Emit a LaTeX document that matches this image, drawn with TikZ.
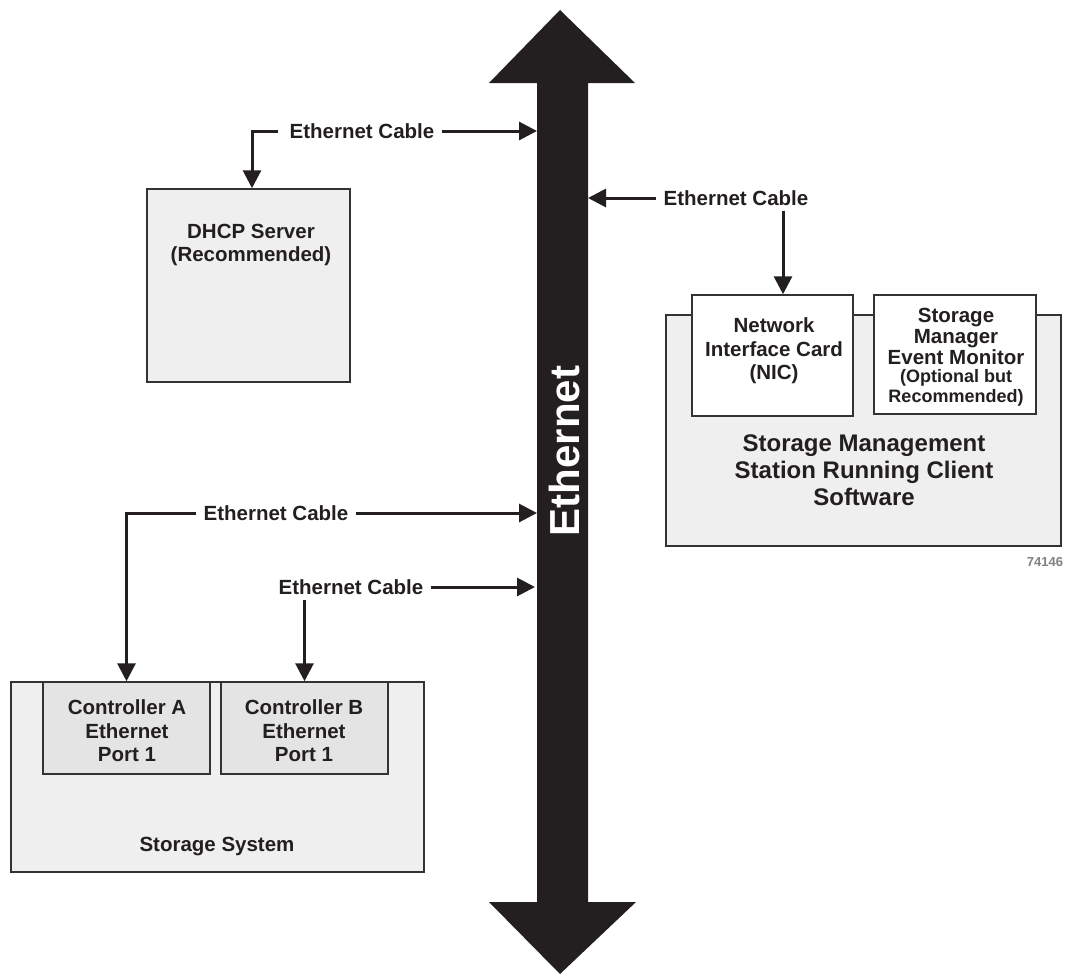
\documentclass[tikz,border=0pt]{standalone}
\usepackage{fontspec}
\setmainfont{Liberation Sans}
\usetikzlibrary{arrows.meta}
\definecolor{ink}{HTML}{231F20}
\definecolor{edge}{HTML}{333333}
\definecolor{boxfill}{HTML}{EFEFEF}
\definecolor{portfill}{HTML}{E4E4E4}
\tikzset{
  box/.style={draw=edge, line width=1.5pt, fill=boxfill, inner sep=0pt},
  portbox/.style={box, fill=portfill},
  whitebox/.style={box, fill=white},
  txt/.style={text=ink, font=\fontsize{20.5}{23.5}\selectfont\bfseries, align=center, inner sep=0pt},
  bigtxt/.style={txt, font=\fontsize{24}{27}\selectfont\bfseries},
  smalltxt/.style={txt, font=\fontsize{18}{19.5}\selectfont\bfseries},
  cablelbl/.style={txt, inner xsep=7pt, inner ysep=0pt},
  cable/.style={draw=ink, line width=3pt, -{Triangle[length=18pt,width=18pt]}},
  plain/.style={draw=ink, line width=3pt},
}
\begin{document}
\begin{tikzpicture}[x=1pt,y=-1pt]
\useasboundingbox (0,0) rectangle (1073,974);

% Ethernet backbone (double arrow)
\fill[ink] (560,10) -- (635,83) -- (588,83) -- (588,902) -- (636,902) -- (560,974)
  -- (489,902) -- (537,902) -- (537,83) -- (489,83) -- cycle;
\coordinate (shaftL) at (537,450);
\coordinate (shaftR) at (588,450);
\node[rotate=90, text=white, font=\fontsize{42}{42}\selectfont\bfseries, inner sep=0pt] (eth) at (564,451) {Ethernet};

% DHCP server
\node[box, minimum width=203pt, minimum height=193pt] (dhcp) at (248.5,285.5) {};
\node[txt] (dhcptxt) at (251,245) {DHCP Server\\(Recommended)};

% Storage management station
\node[box, minimum width=395pt, minimum height=231pt] (station) at (863.5,430.5) {};
\node[whitebox, minimum width=161pt, minimum height=121pt] (nic) at (772.5,355.5) {};
\node[whitebox, minimum width=162pt, minimum height=119pt] (smem) at (955,354.5) {};
\node[txt] (nictxt) at (774,351) {Network\\Interface Card\\(NIC)};
\node[txt, font=\fontsize{20.5}{21}\selectfont\bfseries] (smemtxt) at (956,336) {Storage\\Manager\\Event Monitor};
\node[smalltxt] (smemopt) at (956,388) {(Optional but\\Recommended)};
\node[bigtxt] (stationtxt) at (864,470) {Storage Management\\Station Running Client\\Software};
\node[text=gray, font=\fontsize{13}{13}\selectfont\bfseries, inner sep=0pt] (fig) at (1045,562) {74146};

% Storage system
\node[box, minimum width=413pt, minimum height=190pt] (storage) at (217.5,777) {};
\node[portbox, minimum width=167pt, minimum height=92pt] (ctrlA) at (126.5,728) {};
\node[portbox, minimum width=167pt, minimum height=92pt] (ctrlB) at (304.5,728) {};
\node[txt] (ctrlAtxt) at (127,731) {Controller A\\Ethernet\\Port 1};
\node[txt] (ctrlBtxt) at (304,731) {Controller B\\Ethernet\\Port 1};
\node[txt] (storagetxt) at (217,847) {Storage System};

% Cable labels
\node[cablelbl] (c1) at (362,131) {Ethernet Cable};
\node[cablelbl] (c2) at (736,198) {Ethernet Cable};
\node[cablelbl] (c3) at (276,513) {Ethernet Cable};
\node[cablelbl] (c4) at (351,587) {Ethernet Cable};

% Connectors
\draw[cable] (c1.east) -- (c1.east -| shaftL);
\draw[cable] ([xshift=-4pt]c1.west) -| ([xshift=3.5pt]dhcp.north);
\draw[cable] (c2.west) -- (c2.west -| shaftR);
\draw[cable] ([xshift=47pt,yshift=-5pt]c2.south) -- ([xshift=10.5pt]nic.north);
\draw[cable] (c3.east) -- (c3.east -| shaftL);
\draw[cable] (c3.west) -| (ctrlA.north);
\draw[cable] (c4.east) -- ([xshift=-2pt]c4.east -| shaftL);
\draw[cable] ([yshift=-5pt]c4.south -| ctrlB.north) -- (ctrlB.north);
\end{tikzpicture}
\end{document}
